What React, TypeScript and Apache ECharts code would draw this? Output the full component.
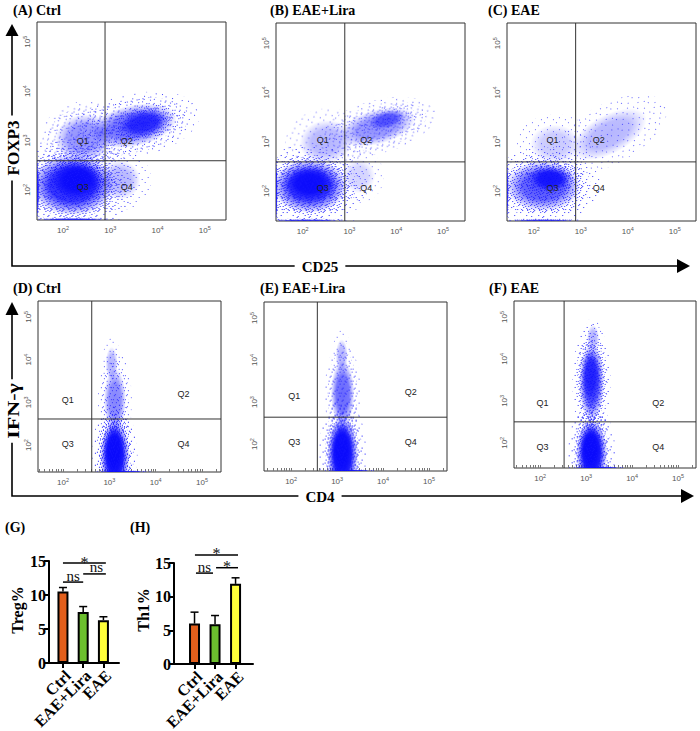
import React, { useEffect, useRef } from 'react';
import * as echarts from 'echarts';

// ---------- DATA ----------
const panelTitles = ['(A) Ctrl', '(B) EAE+Lira', '(C) EAE', '(D) Ctrl', '(E) EAE+Lira', '(F) EAE'];
const decadeTicks = [2, 3, 4, 5];
const minorTickValues = [
  30, 40, 50, 60, 70, 80, 90,
  100, 200, 300, 400, 500, 600, 700, 800, 900,
  1000, 2000, 3000, 4000, 5000, 6000, 7000, 8000, 9000,
  10000, 20000, 30000, 40000, 50000, 60000, 70000, 80000, 90000,
  100000, 200000,
];
// axis extents in log10 units
const xRanges = [[1.45, 5.45], [1.43, 5.47], [1.43, 5.45], [1.46, 5.41], [1.41, 5.39], [1.43, 5.39]];
const yRanges = [[1.39, 5.4], [1.39, 5.41], [1.39, 5.41], [1.37, 5.37], [1.36, 5.38], [1.4, 5.38]];
// gate positions (log10 units)
const xGates = [2.89, 2.9, 2.89, 2.62, 2.57, 2.52];
const yGates = [2.59, 2.59, 2.59, 2.61, 2.64, 2.5];
const quadNames = ['Q1', 'Q2', 'Q3', 'Q4'];
const quadPos = [
  [[2.42, 3.0], [3.35, 3.0], [2.42, 2.05], [3.35, 2.05]],
  [[2.43, 3.04], [3.36, 3.04], [2.43, 2.06], [3.36, 2.06]],
  [[2.4, 3.04], [3.38, 3.04], [2.4, 2.06], [3.38, 2.06]],
  [[2.1, 3.05], [4.6, 3.19], [2.1, 2.02], [4.6, 2.02]],
  [[2.07, 3.14], [4.6, 3.24], [2.07, 2.05], [4.6, 2.05]],
  [[2.05, 2.95], [4.57, 2.95], [2.05, 1.9], [4.57, 1.9]],
];
// event-density clouds: [x, y, spreadX, spreadY, tiltDeg, density]  (log10 units)
const cloudsA = [
  [2.2, 2.1, 1.0, 0.7, 0, 0.9], [2.3, 2.2, 0.6, 0.42, 0, 1.0],
  [1.46, 2.0, 0.04, 0.65, 0, 0.8], [2.2, 1.4, 0.75, 0.03, 0, 0.8],
  [2.45, 3.05, 0.7, 0.55, 10, 0.45], [3.2, 2.2, 0.5, 0.45, 0, 0.3],
  [3.5, 3.3, 1.05, 0.48, 12, 0.6], [3.7, 3.35, 0.6, 0.3, 12, 0.75],
];
const cloudsB = [
  [2.15, 2.1, 0.9, 0.62, 0, 0.85], [2.15, 2.15, 0.6, 0.38, 0, 1.0],
  [1.44, 2.0, 0.03, 0.65, 0, 0.8], [2.1, 1.4, 0.75, 0.03, 0, 0.7],
  [2.5, 3.0, 0.65, 0.5, 10, 0.3], [3.2, 2.3, 0.4, 0.4, 0, 0.18],
  [3.6, 3.3, 0.95, 0.4, 15, 0.45], [3.8, 3.45, 0.45, 0.2, 15, 0.5],
];
const cloudsC = [
  [2.2, 2.1, 0.9, 0.58, 0, 0.7], [2.35, 2.25, 0.5, 0.28, 0, 0.9],
  [1.44, 2.0, 0.03, 0.6, 0, 0.7], [2.2, 1.4, 0.7, 0.03, 0, 0.7],
  [2.45, 2.95, 0.6, 0.45, 0, 0.22], [3.6, 3.15, 1.0, 0.45, 28, 0.3],
];
const cloudsD = [
  [3.12, 1.75, 0.36, 0.95, 0, 1.0], [3.1, 1.85, 0.25, 0.7, 0, 1.0],
  [3.12, 3.05, 0.27, 0.85, 0, 0.5], [3.05, 3.9, 0.15, 0.45, 0, 0.3],
  [3.3, 1.38, 0.55, 0.025, 0, 0.8],
];
const cloudsE = [
  [3.12, 1.75, 0.38, 1.0, 0, 1.0], [3.1, 1.85, 0.26, 0.75, 0, 1.0],
  [3.12, 3.2, 0.29, 0.9, 0, 0.62], [3.1, 4.1, 0.15, 0.45, 0, 0.3],
  [3.3, 1.37, 0.5, 0.025, 0, 0.8],
];
const cloudsF = [
  [3.12, 1.75, 0.38, 0.9, 0, 1.0], [3.1, 1.85, 0.26, 0.65, 0, 1.0],
  [3.12, 3.45, 0.31, 1.05, 0, 0.78], [3.1, 3.6, 0.22, 0.7, 0, 0.6],
  [3.15, 4.5, 0.15, 0.35, 0, 0.3], [3.3, 1.41, 0.5, 0.025, 0, 0.8],
];
const clouds = [cloudsA, cloudsB, cloudsC, cloudsD, cloudsE, cloudsF];

const barCategories = ['Ctrl', 'EAE+Lira', 'EAE'];
const barColors = ['#e35f1c', '#6cbf2e', '#ffff3a'];
const tregMeans = [10.5, 7.5, 6.3];
const tregErr = [0.6, 0.8, 0.5];
const th1Means = [6.0, 5.9, 11.9];
const th1Err = [1.7, 1.3, 0.9];
const barTicks = [0, 5, 10, 15];
// significance brackets: [fromX, toX, y]
const tregSig = [[1, 3.12, 14.7], [1, 2, 11.9], [2, 3.12, 13.1]];
const tregSigText = ['*', 'ns', 'ns'];
const th1Sig = [[1.02, 3.12, 16.2], [1.07, 1.9, 13.5], [2.05, 3.12, 14.3]];
const th1SigText = ['*', 'ns', '*'];

// ---------- LAYOUT / STYLE ----------
const scatterBoxes = [
  [37, 22, 189, 198], [276, 23, 189, 198], [507, 23, 189, 198],
  [38, 301, 183, 171], [264, 302, 183, 169], [514, 301, 182, 167],
];
const barBoxes = [[49, 561, 70, 102], [174, 563, 79, 101]];
const barXRanges = [[0.31, 3.77], [0, 3.85]];
const sigTextDx = [[0, 0, 2], [0, 0, 0]];

const serif = "'Liberation Serif', 'Times New Roman', serif";
const sans = "'Liberation Sans', Arial, sans-serif";
const BLUE = '10,10,252';
// speckle texture tiles (dot offsets inside a 12px tile) – purely decorative texture
const tileSparse = [[1, 2], [7, 5], [4, 9], [10, 11]];
const tileMid = [[3, 0], [9, 2], [0, 6], [6, 8], [11, 7], [2, 11], [8, 11]];
const tileDense = [[5, 3], [1, 4], [8, 0], [10, 4], [3, 7], [7, 10], [0, 10], [5, 6], [11, 1], [9, 8], [2, 1]];

function makeTile(dots: number[][]) {
  try {
    const c = document.createElement('canvas');
    c.width = 12; c.height = 12;
    const ctx = c.getContext('2d');
    if (!ctx) return null;
    ctx.fillStyle = 'rgb(20,20,255)';
    dots.forEach(([x, y]) => ctx.fillRect(x, y, 1, 1));
    return { image: c, repeat: 'repeat', imageWidth: 12, imageHeight: 12 };
  } catch (e) {
    return null;
  }
}

function buildOption() {
  const grid: any[] = [];
  const xAxis: any[] = [];
  const yAxis: any[] = [];
  const series: any[] = [];
  const patSparse = makeTile(tileSparse);
  const patMid = makeTile(tileMid);
  const patDense = makeTile(tileDense);

  const tickRich = {
    b: { fontSize: 8, fontFamily: sans, color: '#555', lineHeight: 11 },
    s: { fontSize: 5.5, fontFamily: sans, color: '#555', verticalAlign: 'top', lineHeight: 11 },
  };
  const fmt = (v: number) => `{b|10}{s|${Math.round(v)}}`;

  scatterBoxes.forEach((b, i) => {
    const bottomRow = i >= 3;
    grid.push({ left: b[0], top: b[1], width: b[2], height: b[3], show: true, borderColor: '#333', borderWidth: 1, backgroundColor: 'transparent' });
    xAxis.push({
      gridIndex: i, type: 'value', min: xRanges[i][0], max: xRanges[i][1],
      axisLine: { show: false }, splitLine: { show: false },
      axisTick: bottomRow
        ? { show: true, inside: true, length: 3, customValues: minorTickValues.map((v) => Math.log10(v)), lineStyle: { color: '#777', width: 1 } }
        : { show: false },
      axisLabel: { customValues: decadeTicks, formatter: fmt, rich: tickRich, margin: 5 },
    });
    yAxis.push({
      gridIndex: i, type: 'value', min: yRanges[i][0], max: yRanges[i][1],
      axisLine: { show: false }, splitLine: { show: false }, axisTick: { show: false },
      axisLabel: { customValues: decadeTicks, formatter: fmt, rich: tickRich, rotate: 90, margin: 4 },
    });
    series.push({
      type: 'custom', xAxisIndex: i, yAxisIndex: i, clip: true, silent: true, z: 2,
      data: clouds[i],
      renderItem: (_p: any, api: any) => {
        const c = api.coord([api.value(0), api.value(1)]);
        const s = api.size([api.value(2), api.value(3)]);
        const op = api.value(5);
        const rot = (api.value(4) * Math.PI) / 180;
        const children: any[] = [{
          type: 'ellipse', shape: { cx: 0, cy: 0, rx: s[0] * 0.88, ry: s[1] * 0.88 },
          style: {
            fill: new echarts.graphic.RadialGradient(0.5, 0.5, 0.5, [
              { offset: 0, color: `rgba(${BLUE},${op})` },
              { offset: 0.55, color: `rgba(${BLUE},${op * 0.9})` },
              { offset: 0.8, color: `rgba(${BLUE},${op * 0.4})` },
              { offset: 1, color: `rgba(${BLUE},0)` },
            ]),
          },
        }];
        const layers: any[] = [];
        if (patSparse) layers.push([patSparse, 1.35]);
        if (patMid && op >= 0.4) layers.push([patMid, 1.12]);
        if (patDense && op >= 0.7) layers.push([patDense, 0.95]);
        layers.forEach(([pat, k]) => {
          children.push({ type: 'ellipse', shape: { cx: 0, cy: 0, rx: s[0] * k, ry: s[1] * k }, style: { fill: pat, opacity: Math.min(1, 0.5 + op * 0.5) } });
        });
        return { type: 'group', x: c[0], y: c[1], rotation: rot, children };
      },
    });
    series.push({
      type: 'custom', xAxisIndex: i, yAxisIndex: i, clip: true, silent: true, z: 3,
      data: [[xGates[i], yGates[i]]],
      renderItem: (_p: any, api: any) => {
        const gx = api.value(0), gy = api.value(1);
        const a = api.coord([gx, yRanges[i][0]]), b2 = api.coord([gx, yRanges[i][1]]);
        const c = api.coord([xRanges[i][0], gy]), d = api.coord([xRanges[i][1], gy]);
        return {
          type: 'group', children: [
            { type: 'line', shape: { x1: a[0], y1: a[1], x2: b2[0], y2: b2[1] }, style: { stroke: '#333', lineWidth: 1 } },
            { type: 'line', shape: { x1: c[0], y1: c[1], x2: d[0], y2: d[1] }, style: { stroke: '#333', lineWidth: 1 } },
          ],
        };
      },
    });
    series.push({
      type: 'custom', xAxisIndex: i, yAxisIndex: i, silent: true, z: 4,
      data: quadPos[i],
      renderItem: (p: any, api: any) => {
        const c = api.coord([api.value(0), api.value(1)]);
        return {
          type: 'text', x: c[0], y: c[1],
          style: { text: quadNames[p.dataIndex], font: `9px ${sans}`, fill: '#222', stroke: 'none', align: 'center', verticalAlign: 'middle' },
        };
      },
    });
  });

  // bar charts
  const barSets = [
    { means: tregMeans, errs: tregErr, sig: tregSig, sigText: tregSigText },
    { means: th1Means, errs: th1Err, sig: th1Sig, sigText: th1SigText },
  ];
  barSets.forEach((set, k) => {
    const gi = 6 + k;
    const b = barBoxes[k];
    grid.push({ left: b[0], top: b[1], width: b[2], height: b[3] });
    xAxis.push({
      gridIndex: gi, type: 'value', min: barXRanges[k][0], max: barXRanges[k][1],
      splitLine: { show: false },
      axisLine: { show: true, onZero: false, lineStyle: { color: '#000', width: 2 } },
      axisTick: { show: true, customValues: [1, 2, 3], length: 5, lineStyle: { color: '#000', width: 2 } },
      axisLabel: { show: false },
    });
    yAxis.push({
      gridIndex: gi, type: 'value', min: 0, max: 15,
      splitLine: { show: false },
      axisLine: { show: true, lineStyle: { color: '#000', width: 2 } },
      axisTick: { show: true, customValues: barTicks, length: 5, lineStyle: { color: '#000', width: 2 } },
      axisLabel: { customValues: barTicks, margin: 3, fontFamily: serif, fontWeight: 'bold', fontSize: 16, color: '#000' },
    });
    series.push({
      type: 'bar', xAxisIndex: gi, yAxisIndex: gi, barWidth: 11, z: 3,
      data: set.means.map((v, i) => ({ value: [i + 1, v], itemStyle: { color: barColors[i] } })),
      itemStyle: { borderColor: '#000', borderWidth: 2 },
    });
    // error bars
    series.push({
      type: 'custom', xAxisIndex: gi, yAxisIndex: gi, z: 4, silent: true,
      data: set.means.map((v, i) => [i + 1, v, set.errs[i]]),
      renderItem: (_p: any, api: any) => {
        const x = api.value(0), m = api.value(1), e = api.value(2);
        const p0 = api.coord([x, m]);
        const p1 = api.coord([x, m + e]);
        return {
          type: 'group', children: [
            { type: 'line', shape: { x1: p0[0], y1: p0[1], x2: p1[0], y2: p1[1] }, style: { stroke: '#000', lineWidth: 1.5 } },
            { type: 'line', shape: { x1: p1[0] - 4, y1: p1[1], x2: p1[0] + 4, y2: p1[1] }, style: { stroke: '#000', lineWidth: 1.5 } },
          ],
        };
      },
    });
    // category labels
    series.push({
      type: 'custom', xAxisIndex: gi, yAxisIndex: gi, z: 4, silent: true, clip: false,
      data: barCategories.map((_c, i) => [i + 1, 0]),
      renderItem: (p: any, api: any) => {
        const c = api.coord([api.value(0), api.value(1)]);
        return {
          type: 'text', x: c[0] + 5, y: c[1] + 10, rotation: Math.PI / 4,
          style: { text: barCategories[p.dataIndex], font: `bold 16px ${serif}`, fill: '#000', stroke: 'none', align: 'right', verticalAlign: 'middle' },
        };
      },
    });
    // significance lines
    series.push({
      type: 'custom', xAxisIndex: gi, yAxisIndex: gi, z: 4, silent: true, clip: false,
      data: set.sig,
      renderItem: (_p: any, api: any) => {
        const a = api.coord([api.value(0), api.value(2)]);
        const c = api.coord([api.value(1), api.value(2)]);
        return { type: 'line', shape: { x1: a[0], y1: a[1], x2: c[0], y2: c[1] }, style: { stroke: '#000', fill: 'none', lineWidth: 1.5 } };
      },
    });
    // significance texts
    series.push({
      type: 'custom', xAxisIndex: gi, yAxisIndex: gi, z: 5, silent: true, clip: false,
      data: set.sig,
      renderItem: (p: any, api: any) => {
        const a = api.coord([api.value(0), api.value(2)]);
        const c = api.coord([api.value(1), api.value(2)]);
        const t = set.sigText[p.dataIndex];
        const star = t === '*';
        return {
          type: 'text', x: (a[0] + c[0]) / 2 + sigTextDx[k][p.dataIndex], y: a[1] + (star ? 7 : 1),
          style: { text: t, font: `${star ? 16 : 15}px ${serif}`, fill: '#111', stroke: 'none', align: 'center', verticalAlign: 'bottom' },
        };
      },
    });
  });

  const titleFont = `bold 14px ${serif}`;
  const graphic: any[] = [];
  const titlePos = [[13, 10], [270, 10], [488, 10], [13, 288], [260, 288], [489, 288]];
  panelTitles.forEach((t, i) => {
    graphic.push({ type: 'text', x: titlePos[i][0], y: titlePos[i][1], style: { text: t, font: titleFont, fill: '#000', verticalAlign: 'middle' } });
  });
  graphic.push({ type: 'text', x: 5, y: 527, style: { text: '(G)', font: titleFont, fill: '#000', verticalAlign: 'middle' } });
  graphic.push({ type: 'text', x: 130, y: 527, style: { text: '(H)', font: titleFont, fill: '#000', verticalAlign: 'middle' } });

  const axStroke = { stroke: '#000', lineWidth: 1.6 };
  // top row frame arrows
  graphic.push({ type: 'polyline', shape: { points: [[12, 34], [12, 266], [679, 266]] }, style: { ...axStroke, fill: null } });
  graphic.push({ type: 'polygon', shape: { points: [[5.5, 36], [18.5, 36], [12, 24]] }, style: { fill: '#000' } });
  graphic.push({ type: 'polygon', shape: { points: [[677, 259], [677, 273], [690, 266]] }, style: { fill: '#000' } });
  // bottom row frame arrows
  graphic.push({ type: 'polyline', shape: { points: [[12, 313], [12, 496], [684, 496]] }, style: { ...axStroke, fill: null } });
  graphic.push({ type: 'polygon', shape: { points: [[5.5, 315], [18.5, 315], [12, 302]] }, style: { fill: '#000' } });
  graphic.push({ type: 'polygon', shape: { points: [[681, 489], [681, 503], [694, 496]] }, style: { fill: '#000' } });

  const axisLabel = (text: string, x: number, y: number, rot: number, size: number, sx = 1, pad = 5) => ({
    type: 'text', x, y, rotation: rot, scaleX: sx, z: 10,
    style: { text, font: `bold ${size}px ${serif}`, fill: '#000', align: 'center', verticalAlign: 'middle', backgroundColor: '#fff', padding: [0, pad] },
  });
  graphic.push(axisLabel('FOXP3', 13, 148, Math.PI / 2, 17));
  graphic.push(axisLabel('CD25', 320, 267, 0, 15, 1, 7));
  graphic.push(axisLabel('IFN-γ', 13, 411, Math.PI / 2, 17, 1.3, 3));
  graphic.push(axisLabel('CD4', 320, 497, 0, 15, 1, 7));
  graphic.push({ type: 'text', x: 17, y: 610, rotation: Math.PI / 2, style: { text: 'Treg%', font: `bold 16px ${serif}`, fill: '#000', align: 'center', verticalAlign: 'middle' } });
  graphic.push({ type: 'text', x: 143, y: 610, rotation: Math.PI / 2, style: { text: 'Th1%', font: `bold 16px ${serif}`, fill: '#000', align: 'center', verticalAlign: 'middle' } });

  return { animation: false, backgroundColor: '#fff', grid, xAxis, yAxis, series, graphic };
}

export default function App() {
  const ref = useRef<HTMLDivElement>(null);
  useEffect(() => {
    if (!ref.current) return;
    const chart = echarts.init(ref.current, undefined, { renderer: 'svg' });
    chart.setOption(buildOption() as any);
    return () => chart.dispose();
  }, []);
  return <div ref={ref} style={{ position: 'absolute', left: 0, top: 0, width: 700, height: 731, background: '#fff' }} />;
}
